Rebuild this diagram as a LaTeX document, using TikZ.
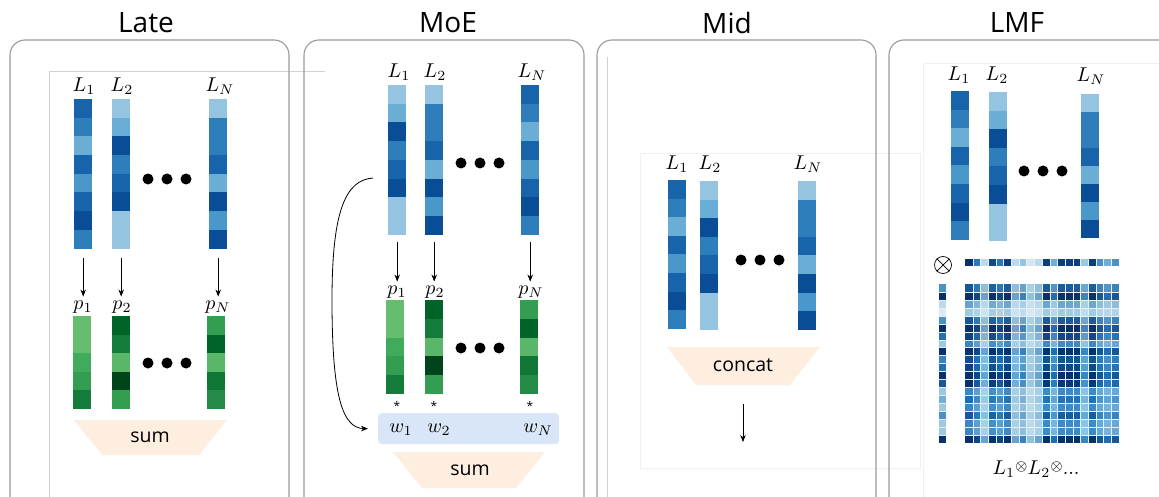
\documentclass[tikz,border=0pt]{standalone}
\usepackage{fontspec}
\setmainfont{Open Sans}
\usetikzlibrary{arrows.meta,calc}
% blues
\definecolor{bA}{HTML}{94C4DF}
\definecolor{bB}{HTML}{6AAED6}
\definecolor{bC}{HTML}{4A98C9}
\definecolor{bD}{HTML}{2E7EBC}
\definecolor{bE}{HTML}{1764AB}
\definecolor{bF}{HTML}{084D96}
% greens
\definecolor{gA}{HTML}{66BD6F}
\definecolor{gB}{HTML}{5AB769}
\definecolor{gC}{HTML}{41AB5D}
\definecolor{gD}{HTML}{339E52}
\definecolor{gE}{HTML}{238B45}
\definecolor{gF}{HTML}{137C3B}
\definecolor{gG}{HTML}{0E7735}
\definecolor{gH}{HTML}{006428}
\definecolor{gI}{HTML}{00441B}
% colormap stops
\definecolor{mA}{HTML}{F7FBFF}
\definecolor{mB}{HTML}{9ECAE1}
\definecolor{mC}{HTML}{2171B5}
\definecolor{mD}{HTML}{08306B}
\definecolor{peach}{HTML}{FDEEE0}
\definecolor{wbluefill}{HTML}{D8E6F8}
\definecolor{panelgray}{HTML}{9A9A9A}
% scaled maths label
\newcommand{\mlab}[1]{\scalebox{2.0}{$#1$}}
% a bar of coloured cells: name, x left, y top, width, n cells, cell height, colours
\newcommand{\vecbar}[7]{%
  \node[inner sep=0pt, minimum width=#4, minimum height={#5*#6}, anchor=north west] (#1) at (#2,#3) {};
  \foreach \mycol [count=\kk from 0] in {#7} {\fill[\mycol] (#2,{#3+\kk*#6}) rectangle ++(#4,#6);}
}
\newcommand{\setblue}[1]{%
  \pgfmathsetmacro{\tv}{#1}%
  \ifdim\tv pt<0.375pt
    \pgfmathsetmacro{\pv}{\tv/0.375*100}\colorlet{cellc}{mB!\pv!mA}%
  \else\ifdim\tv pt<0.75pt
    \pgfmathsetmacro{\pv}{(\tv-0.375)/0.375*100}\colorlet{cellc}{mC!\pv!mB}%
  \else
    \pgfmathsetmacro{\pv}{min(100,(\tv-0.75)/0.25*100)}\colorlet{cellc}{mD!\pv!mC}%
  \fi\fi}
\def\rowv{1.0,0.72,0.25,0.9,0.72,0.95,0.25,0.4,0.15,0.25,0.95,0.5,0.95,0.95,0.95,0.38,0.95,0.62,0.5,0.62}
\def\colv{0.62,1.0,0.25,0.12,0.62,1.0,0.75,0.38,1.0,0.68,0.75,1.0,0.85,0.38,0.5,0.38,0.62,0.38,0.38,1.0}
\tikzset{
  panel/.style={draw=panelgray, line width=1.1pt, rounded corners=15pt},
  ttl/.style={font=\fontsize{28}{32}\selectfont, inner sep=0pt},
  lab/.style={font=\normalsize, inner sep=0pt},
  arr/.style={-{Stealth[length=7pt,width=5.5pt]}, line width=0.8pt},
  trap/.style={fill=peach},
  optxt/.style={font=\fontsize{19.5}{22}\selectfont, inner sep=0pt},
  star/.style={font=\fontsize{12}{14}\selectfont, inner sep=0pt},
  faint/.style={draw=gray!35, line width=0.6pt},
  fainter/.style={draw=gray!12, line width=0.6pt},
  dot/.style={fill=black}
}
\begin{document}
\begin{tikzpicture}[x=1pt,y=-1pt]
\useasboundingbox (0,0) rectangle (1159,497);
\clip (0,0) rectangle (1159,497);
\fill[white] (0,0) rectangle (1159,497);

% faint frame lines
\draw[faint] (49,510) -- (49,71) -- (325,71);
\draw[faint] (607,57) -- (607,510);
\draw[fainter] (640,153) rectangle (920,468);
\draw[fainter] (1165,63) -- (923,63) -- (923,510);

% panels
\draw[panel] (10,40) rectangle (289,515);
\draw[panel] (304,40) rectangle (584,515);
\draw[panel] (597,40) rectangle (876,515);
\draw[panel] (889,40) rectangle (1180,515);

% titles
\node[ttl] (tLate) at (146,23) {Late};
\node[ttl] (tMoE) at (448,23) {MoE};
\node[ttl] (tMid) at (727,23) {Mid};
\node[ttl] (tLMF) at (1017,23) {LMF};

%%%%%%%%%%%% Late
\vecbar{la1}{74}{99}{18}{8}{18.7}{bE,bD,bB,bE,bC,bE,bF,bD}
\vecbar{la2}{112}{99}{18}{8}{18.7}{bA,bB,bF,bD,bE,bF,bA,bA}
\vecbar{laN}{209}{99}{18}{8}{18.7}{bA,bD,bD,bE,bB,bF,bC,bF}
\node[lab] (lla1) at (84,86) {\mlab{L_1}};
\node[lab] (lla2) at (122,86) {\mlab{L_2}};
\node[lab] (llaN) at (220,86) {\mlab{L_N}};
\fill[dot] (148,179) circle[radius=5.5pt];
\fill[dot] (167,179) circle[radius=5.5pt];
\fill[dot] (186,179) circle[radius=5.5pt];
\node[lab] (pla1) at (83,307) {\mlab{p_1}};
\node[lab] (pla2) at (122,307) {\mlab{p_2}};
\node[lab] (plaN) at (218,307) {\mlab{p_N}};
\draw[arr] ([yshift=-9pt]la1.south) -- ([yshift=4pt]pla1.north -| la1.south);
\draw[arr] ([yshift=-9pt]la2.south) -- ([yshift=4pt]pla2.north -| la2.south);
\draw[arr] ([yshift=-9pt]laN.south) -- ([yshift=4pt]plaN.north -| laN.south);
\vecbar{ga1}{73}{316}{18}{5}{18.6}{gA,gA,gC,gD,gF}
\vecbar{ga2}{112}{316}{18}{5}{18.6}{gH,gF,gB,gI,gD}
\vecbar{gaN}{207}{316}{18}{5}{18.6}{gD,gH,gB,gG,gE}
\fill[dot] (148,363) circle[radius=5.5pt];
\fill[dot] (167,363) circle[radius=5.5pt];
\fill[dot] (186,363) circle[radius=5.5pt];
\fill[trap] (74,420) -- (227,420) -- (199,455) -- (102,455) -- cycle;
\node[optxt] (suma) at (150,437) {sum};

%%%%%%%%%%%% MoE
\vecbar{lm1}{388}{85}{18}{8}{18.75}{bA,bB,bF,bD,bE,bF,bA,bA}
\vecbar{lm2}{425}{85}{18}{8}{18.75}{bA,bD,bD,bE,bB,bF,bC,bF}
\vecbar{lmN}{521}{85}{18}{8}{18.75}{bE,bD,bB,bE,bC,bE,bF,bD}
\node[lab] (llm1) at (399,72) {\mlab{L_1}};
\node[lab] (llm2) at (435,72) {\mlab{L_2}};
\node[lab] (llmN) at (532,72) {\mlab{L_N}};
\fill[dot] (461,163) circle[radius=5.5pt];
\fill[dot] (480,163) circle[radius=5.5pt];
\fill[dot] (499,163) circle[radius=5.5pt];
\node[lab] (plm1) at (397,292) {\mlab{p_1}};
\node[lab] (plm2) at (435,292) {\mlab{p_2}};
\node[lab] (plmN) at (531,292) {\mlab{p_N}};
\draw[arr] ([yshift=-7pt]lm1.south) -- ([yshift=4pt]plm1.north -| lm1.south);
\draw[arr] ([yshift=-7pt]lm2.south) -- ([yshift=4pt]plm2.north -| lm2.south);
\draw[arr] ([yshift=-7pt]lmN.south) -- ([yshift=4pt]plmN.north -| lmN.south);
\vecbar{gm1}{386}{300}{18}{5}{18.8}{gA,gA,gC,gD,gF}
\vecbar{gm2}{425}{300}{18}{5}{18.8}{gH,gF,gB,gI,gD}
\vecbar{gmN}{520}{300}{18}{5}{18.8}{gD,gH,gB,gG,gE}
\fill[dot] (461,348) circle[radius=5.5pt];
\fill[dot] (480,348) circle[radius=5.5pt];
\fill[dot] (499,348) circle[radius=5.5pt];
\node[star] (s1) at (397,406) {*};
\node[star] (s2) at (434,406) {*};
\node[star] (sN) at (530,406) {*};
\node[fill=wbluefill, rounded corners=4pt, minimum width=181, minimum height=31, inner sep=0pt, anchor=north west] (wbox) at (378,413) {};
\node[lab] (w1) at (401,430) {\mlab{w_1}};
\node[lab] (w2) at (439,430) {\mlab{w_2}};
\node[lab] (wN) at (538,430) {\mlab{w_N}};
\coordinate (cstart) at (373,178);
\draw[arr] (cstart) .. controls (345,180) and (332,212) .. (332,300)
  .. controls (332,395) and (342,428) .. ([xshift=-10pt]wbox.west);
\fill[trap] (393,452) -- (545,452) -- (516,488) -- (422,488) -- cycle;
\node[optxt] (summ) at (470,470) {sum};

%%%%%%%%%%%% Mid
\vecbar{ld1}{668}{180}{18}{8}{18.6}{bE,bD,bB,bE,bC,bE,bF,bD}
\vecbar{ld2}{700}{181}{18}{8}{18.6}{bA,bB,bF,bD,bE,bF,bA,bA}
\vecbar{ldN}{798}{181}{18}{8}{18.6}{bA,bD,bD,bE,bB,bF,bC,bF}
\node[lab] (lld1) at (677,164) {\mlab{L_1}};
\node[lab] (lld2) at (710,164) {\mlab{L_2}};
\node[lab] (lldN) at (808,164) {\mlab{L_N}};
\fill[dot] (741,260) circle[radius=5.5pt];
\fill[dot] (760,260) circle[radius=5.5pt];
\fill[dot] (779,260) circle[radius=5.5pt];
\fill[trap] (667,347) -- (820,347) -- (790,385) -- (696,385) -- cycle;
\node[optxt] (concat) at (743,365) {concat};
\coordinate (midout) at (743,442);
\draw[arr] ([yshift=-39pt]concat.center) -- (midout);

%%%%%%%%%%%% LMF
\vecbar{lf1}{951}{91}{18}{8}{18.6}{bE,bD,bB,bE,bC,bE,bF,bD}
\vecbar{lf2}{989}{92}{18}{8}{18.6}{bA,bB,bF,bD,bE,bF,bA,bA}
\vecbar{lfN}{1081}{94}{17.5}{8}{18}{bA,bD,bD,bE,bB,bF,bC,bF}
\node[lab] (llf1) at (959,75) {\mlab{L_1}};
\node[lab] (llf2) at (997,75) {\mlab{L_2}};
\node[lab] (llfN) at (1091,76) {\mlab{L_N}};
\fill[dot] (1024,171) circle[radius=5.5pt];
\fill[dot] (1043,171) circle[radius=5.5pt];
\fill[dot] (1062,171) circle[radius=5.5pt];
\node[circle, draw, line width=0.7pt, minimum size=17pt, inner sep=0pt] (otimes) at (943,265) {};
\draw[line width=0.7pt] (otimes.north west) -- (otimes.south east);
\draw[line width=0.7pt] (otimes.north east) -- (otimes.south west);
% row vector
\foreach \bv [count=\cj from 0] in \rowv {\setblue{\bv}\fill[cellc] ({965+\cj*7.7},259) rectangle ++(7.7,7);}
% column vector
\foreach \av [count=\ri from 0] in \colv {\setblue{\av}\fill[cellc] (939,{284+\ri*7.95}) rectangle ++(6.5,7.95);}
% outer product matrix
\node[inner sep=0pt, minimum width=154, minimum height=159, anchor=north west] (mat) at (965,284) {};
\foreach \av [count=\ri from 0] in \colv {
  \foreach \bv [count=\cj from 0] in \rowv {
    \setblue{min(1,1.08*sqrt(\av*\bv))}
    \fill[cellc] ({965+\cj*7.7},{284+\ri*7.95}) rectangle ++(7.7,7.95);
  }
}
\foreach \k in {1,...,19} {
  \draw[white!75!mB, line width=0.3pt] ({965+\k*7.7},284) -- ({965+\k*7.7},443);
  \draw[white!75!mB, line width=0.3pt] (965,{284+\k*7.95}) -- (1119,{284+\k*7.95});
  \draw[white!75!mB, line width=0.25pt] ({965+\k*7.7},259) -- ({965+\k*7.7},266);
  \draw[white!75!mB, line width=0.25pt] (939,{284+\k*7.95}) -- (945.5,{284+\k*7.95});
}
\node[lab] (lmflab) at (1036,469)
  {\scalebox{2.0}{$L_1\raisebox{2pt}{$\scriptstyle\otimes$}L_2\raisebox{2pt}{$\scriptstyle\otimes$}{.}{.}{.}$}};
\end{tikzpicture}
\end{document}
